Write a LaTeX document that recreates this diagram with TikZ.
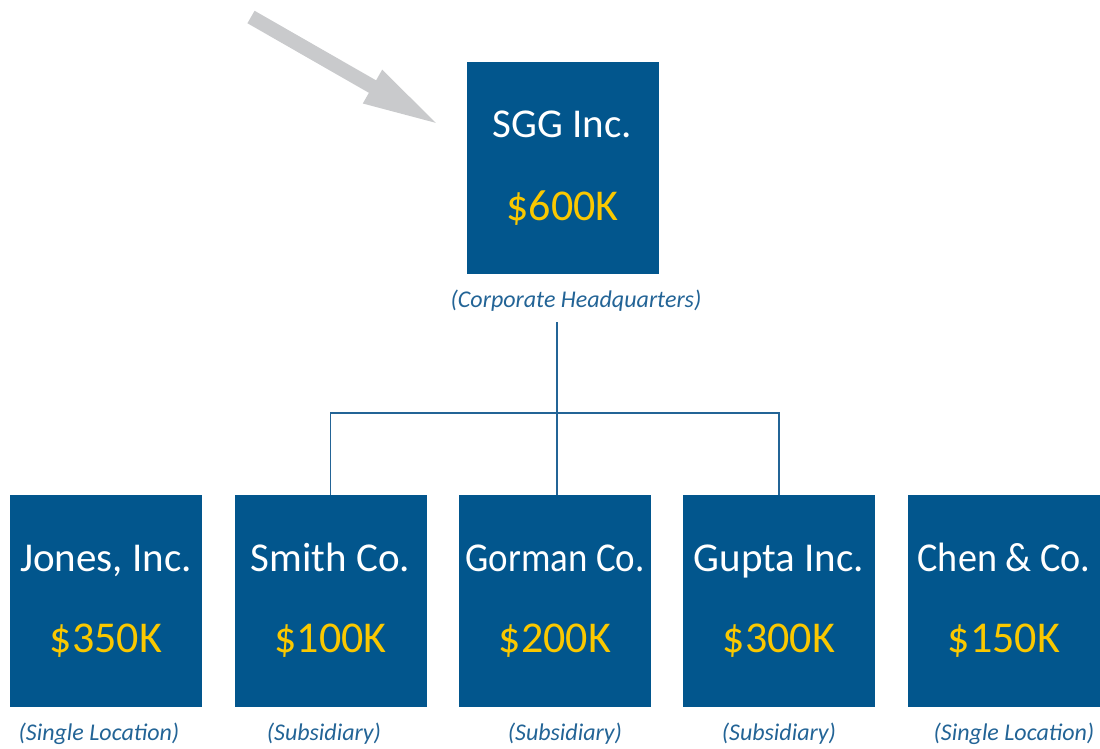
\documentclass[tikz,border=0pt]{standalone}
\usepackage{fontspec}
\setmainfont{Carlito}
\definecolor{boxblue}{RGB}{2,86,141}
\definecolor{valyellow}{RGB}{250,200,0}
\definecolor{lineblue}{RGB}{35,100,150}
\definecolor{arrowgray}{RGB}{201,202,204}
\tikzset{
  orgbox/.style={rectangle, fill=boxblue, minimum width=192pt, minimum height=212pt, inner sep=0pt},
  nametext/.style={anchor=base, text=white, font=\fontsize{41}{41}\selectfont, inner sep=0pt},
  valtext/.style={anchor=base, text=valyellow, font=\fontsize{44}{44}\selectfont, inner sep=0pt},
  labeltext/.style={anchor=base, text=lineblue, font=\fontsize{24}{24}\selectfont\itshape, inner sep=0pt},
  conn/.style={draw=lineblue, line width=1.4pt}
}
\begin{document}
\begin{tikzpicture}[x=1pt, y=-1pt]
\useasboundingbox (0,0) rectangle (1100,748);
% arrow
\begin{scope}[shift={(251,17)}, rotate=-29.8]
  \fill[arrowgray] (0,7.2) -- (140,7.2) -- (140,19.5) -- (213,0) -- (140,-19.5) -- (140,-7.2) -- (0,-7.2) -- cycle;
\end{scope}
% top
\node[orgbox] (sgg) at (562.5,168) {};
\node[nametext] (sggname) at ([yshift=31pt]sgg.center) {SGG Inc.};
\node[valtext] (sggval) at ([yshift=-52pt]sgg.center) {\$600K};
\node[labeltext] (sgglab) at (576,307) {(Corporate Headquarters)};
% bottom
\foreach \nm/\cx/\txt/\val/\lab/\lx in {
  jones/106/{Jones, Inc.}/\$350K/{(Single Location)}/99,
  smith/330.5/{Smith Co.}/\$100K/{(Subsidiary)}/324,
  gorman/555/{\scalebox{0.9}[1]{Gorman Co.}}/\$200K/{(Subsidiary)}/565,
  gupta/779/{Gupta Inc.}/\$300K/{(Subsidiary)}/779,
  chen/1004/{\scalebox{0.93}[1]{Chen \& Co.}}/\$150K/{(Single Location)}/1014}{
  \node[orgbox] (\nm) at (\cx,601) {};
  \node[nametext] (\nm name) at ([yshift=30pt]\nm.center) {\txt};
  \node[valtext] (\nm val) at ([yshift=-51pt]\nm.center) {\val};
  \node[labeltext] (\nm lab) at (\lx,740) {\lab};
}
% connectors
\coordinate (top) at (557,322);
\coordinate (junc) at (557,413);
\draw[conn] (top) -- (junc);
\draw[conn] (smith.north) |- (gupta.north |- junc) -- (gupta.north);
\draw[conn] (junc) -- (junc |- gorman.north);
\end{tikzpicture}
\end{document}
